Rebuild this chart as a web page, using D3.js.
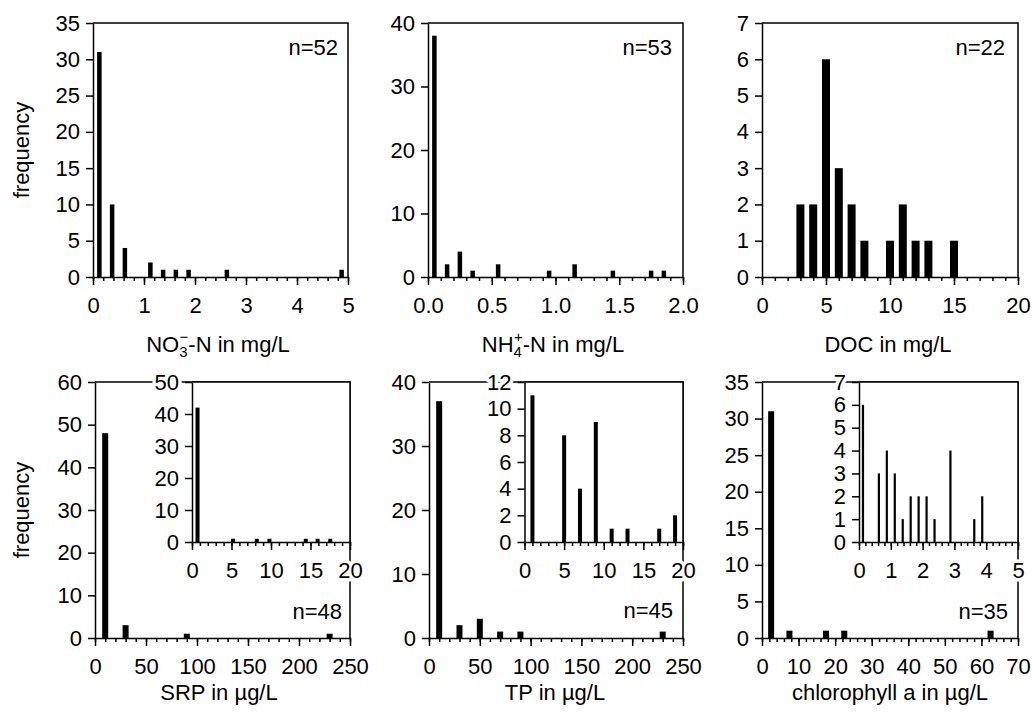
<!DOCTYPE html>
<html>
<head>
<meta charset="utf-8">
<script src="https://cdn.jsdelivr.net/npm/d3@7"></script>
<style>
  body { margin: 0; background: #fff; }
  text { font-family: "Liberation Sans", Arial, sans-serif; fill: #000; }
  .axis path, .axis line { stroke: #000; stroke-width: 1.5; }
  .halo text { stroke: #fff; stroke-width: 7; paint-order: stroke; stroke-linejoin: round; }
</style>
</head>
<body>
<div id="chart"></div>
<script>
// ---- data (bin centre -> frequency) ----
var no3Bins = [0.125, 0.375, 0.625, 1.125, 1.375, 1.625, 1.875, 2.625, 4.875]
var no3Counts = [31, 10, 4, 2, 1, 1, 1, 1, 1]

var nh4Bins = [0.05, 0.15, 0.25, 0.35, 0.55, 0.95, 1.15, 1.45, 1.75, 1.85]
var nh4Counts = [38, 2, 4, 1, 2, 1, 2, 1, 1, 1]

var docBins = [3, 4, 5, 6, 7, 8, 10, 11, 12, 13, 15]
var docCounts = [2, 2, 6, 3, 2, 1, 1, 2, 1, 1, 1]

var srpBins = [10, 30, 90, 230]
var srpCounts = [48, 3, 1, 1]
var srpInsetBins = [0.7, 5.2, 8.2, 9.8, 14.4, 15.9, 17.5]
var srpInsetCounts = [42, 1, 1, 1, 1, 1, 1]

var tpBins = [10, 30, 50, 70, 90, 230]
var tpCounts = [37, 2, 3, 1, 1, 1]
var tpInsetBins = [1, 5, 7, 9, 11, 13, 17, 19]
var tpInsetCounts = [11, 8, 4, 9, 1, 1, 1, 2]

var chlBins = [2.5, 7.5, 17.5, 22.5, 62.5]
var chlCounts = [31, 1, 1, 1, 1]
var chlInsetBins = [0.125, 0.625, 0.875, 1.125, 1.375, 1.625, 1.875, 2.125, 2.375, 2.875, 3.625, 3.875]
var chlInsetCounts = [6, 3, 4, 3, 1, 2, 2, 2, 1, 4, 1, 2]

var sampleSizes = [52, 53, 22, 48, 45, 35]

// ---- layout ----
var W = 1032, H = 713
var colX = [[93, 348], [428, 683], [762, 1018]]
var rowY = [[23, 277], [382, 638]]
var insetTop = 382, insetBottom = 542
var insetLeft = [192, 524.5, 859]
var FS = "22px"

var svg = d3.select("#chart").append("svg")
  .attr("width", W).attr("height", H)

function zip(a, b) { return a.map(function (v, i) { return { x: v, n: b[i] } }) }

// one histogram box: scales, bars, axes, frame
function drawBox(g, o) {
  var x = d3.scaleLinear().domain(o.xDomain).range([o.x0, o.x1])
  var y = d3.scaleLinear().domain(o.yDomain).range([o.y1, o.y0])

  if (o.inset) {
    g.append("rect").attr("x", o.x0).attr("y", o.y0)
      .attr("width", o.x1 - o.x0).attr("height", o.y1 - o.y0).attr("fill", "#fff")
  }

  g.append("g").selectAll("rect")
    .data(o.data)
    .enter().append("rect")
    .attr("x", function (d) { return x(d.x) - o.barW / 2 })
    .attr("width", o.barW)
    .attr("y", function (d) { return y(d.n) })
    .attr("height", function (d) { return y(0) - y(d.n) })
    .attr("fill", "#000")

  // minor ticks
  var minor = g.append("g").attr("class", "axis")
    .attr("transform", "translate(0," + o.y1 + ")")
    .call(d3.axisBottom(x).tickValues(d3.range(o.xDomain[0], o.xDomain[1] + 1e-9, o.xMinor))
      .tickSize(4).tickFormat(""))
  minor.select(".domain").remove()

  var xa = g.append("g").attr("class", "axis" + (o.inset ? " halo" : ""))
    .attr("transform", "translate(0," + o.y1 + ")")
    .call(d3.axisBottom(x).tickValues(d3.range(o.xDomain[0], o.xDomain[1] + 1e-9, o.xMajor))
      .tickSize(8).tickSizeOuter(0).tickPadding(12).tickFormat(o.xFormat || d3.format("d")))
  xa.selectAll("text").style("font-size", FS)

  var ya = g.append("g").attr("class", "axis" + (o.inset ? " halo" : ""))
    .attr("transform", "translate(" + o.x0 + ",0)")
    .call(d3.axisLeft(y).tickValues(d3.range(o.yDomain[0], o.yDomain[1] + 1e-9, o.yStep))
      .tickSize(7).tickSizeOuter(0).tickPadding(6).tickFormat(d3.format("d")))
  ya.selectAll("text").style("font-size", FS)
  // keep the tick marks above the halo of the labels
  xa.selectAll("line").raise()
  ya.selectAll("line").raise()

  // top and right frame
  g.append("path")
    .attr("d", "M" + o.x0 + "," + o.y0 + "H" + o.x1 + "V" + o.y1)
    .attr("fill", "none").attr("stroke", "#000").attr("stroke-width", 1.5)
}

function xTitle(g, cx, yb, parts) {
  var t = g.append("text").attr("x", cx).attr("y", yb)
    .attr("text-anchor", "middle").style("font-size", FS)
  parts(t)
}

function nLabel(g, xr, yb, n) {
  g.append("text").attr("x", xr).attr("y", yb).attr("text-anchor", "end")
    .style("font-size", FS).text("n=" + n)
}

function yTitle(g, cy) {
  g.append("text").attr("transform", "translate(29," + cy + ") rotate(-90)")
    .attr("text-anchor", "middle").style("font-size", FS).text("frequency")
}

var root = svg.append("g")

// ---- top row ----
drawBox(root.append("g"), {
  x0: colX[0][0], x1: colX[0][1], y0: rowY[0][0], y1: rowY[0][1],
  xDomain: [0, 5], xMajor: 1, xMinor: 0.2, yDomain: [0, 35], yStep: 5,
  data: zip(no3Bins, no3Counts), barW: 4.5
})
drawBox(root.append("g"), {
  x0: colX[1][0], x1: colX[1][1], y0: rowY[0][0], y1: rowY[0][1],
  xDomain: [0, 2], xMajor: 0.5, xMinor: 0.1, yDomain: [0, 40], yStep: 10,
  xFormat: d3.format(".1f"), data: zip(nh4Bins, nh4Counts), barW: 4.5
})
drawBox(root.append("g"), {
  x0: colX[2][0], x1: colX[2][1], y0: rowY[0][0], y1: rowY[0][1],
  xDomain: [0, 20], xMajor: 5, xMinor: 1, yDomain: [0, 7], yStep: 1,
  data: zip(docBins, docCounts), barW: 8
})

// ---- bottom row ----
drawBox(root.append("g"), {
  x0: colX[0][0] + 2, x1: colX[0][1] + 2, y0: rowY[1][0], y1: rowY[1][1],
  xDomain: [0, 250], xMajor: 50, xMinor: 10, yDomain: [0, 60], yStep: 10,
  data: zip(srpBins, srpCounts), barW: 6
})
drawBox(root.append("g"), {
  x0: colX[1][0] + 1, x1: colX[1][1], y0: rowY[1][0], y1: rowY[1][1],
  xDomain: [0, 250], xMajor: 50, xMinor: 10, yDomain: [0, 40], yStep: 10,
  data: zip(tpBins, tpCounts), barW: 6
})
drawBox(root.append("g"), {
  x0: colX[2][0], x1: colX[2][1], y0: rowY[1][0], y1: rowY[1][1],
  xDomain: [0, 70], xMajor: 10, xMinor: 2, yDomain: [0, 35], yStep: 5,
  data: zip(chlBins, chlCounts), barW: 6
})

// n labels
var nPos = [[338, 55], [672, 55], [1005, 55], [342, 619], [673, 618], [1008, 619]]
nPos.forEach(function (p, i) { nLabel(root, p[0], p[1], sampleSizes[i]) })

// insets
drawBox(root.append("g"), {
  inset: true, x0: insetLeft[0], x1: colX[0][1] + 2, y0: insetTop, y1: insetBottom,
  xDomain: [0, 20], xMajor: 5, xMinor: 1, yDomain: [0, 50], yStep: 10,
  data: zip(srpInsetBins, srpInsetCounts), barW: 4
})
drawBox(root.append("g"), {
  inset: true, x0: insetLeft[1], x1: colX[1][1], y0: insetTop, y1: insetBottom,
  xDomain: [0, 20], xMajor: 5, xMinor: 1, yDomain: [0, 12], yStep: 2,
  data: zip(tpInsetBins, tpInsetCounts), barW: 4
})
drawBox(root.append("g"), {
  inset: true, x0: insetLeft[2], x1: colX[2][1], y0: insetTop, y1: insetBottom,
  xDomain: [0, 5], xMajor: 1, xMinor: 0.2, yDomain: [0, 7], yStep: 1,
  data: zip(chlInsetBins, chlInsetCounts), barW: 2.2
})

// axis titles
yTitle(root, 150)
yTitle(root, 510)

xTitle(root, 218, 352, function (t) {
  t.append("tspan").text("NO")
  t.append("tspan").attr("dy", 5).style("font-size", "15px").text("3")
  t.append("tspan").attr("dx", -8).attr("dy", -15).style("font-size", "15px").text("\u2212")
  t.append("tspan").attr("dy", 10).text("-N in mg/L")
})
xTitle(root, 553, 352, function (t) {
  t.append("tspan").text("NH")
  t.append("tspan").attr("dy", 5).style("font-size", "15px").text("4")
  t.append("tspan").attr("dx", -8).attr("dy", -15).style("font-size", "15px").text("+")
  t.append("tspan").attr("dy", 10).text("-N in mg/L")
})
xTitle(root, 888, 352, function (t) { t.text("DOC in mg/L") })
xTitle(root, 219, 700, function (t) { t.text("SRP in \u00b5g/L") })
xTitle(root, 555, 700, function (t) { t.text("TP in \u00b5g/L") })
xTitle(root, 890, 700, function (t) { t.text("chlorophyll a in \u00b5g/L") })
</script>
</body>
</html>
